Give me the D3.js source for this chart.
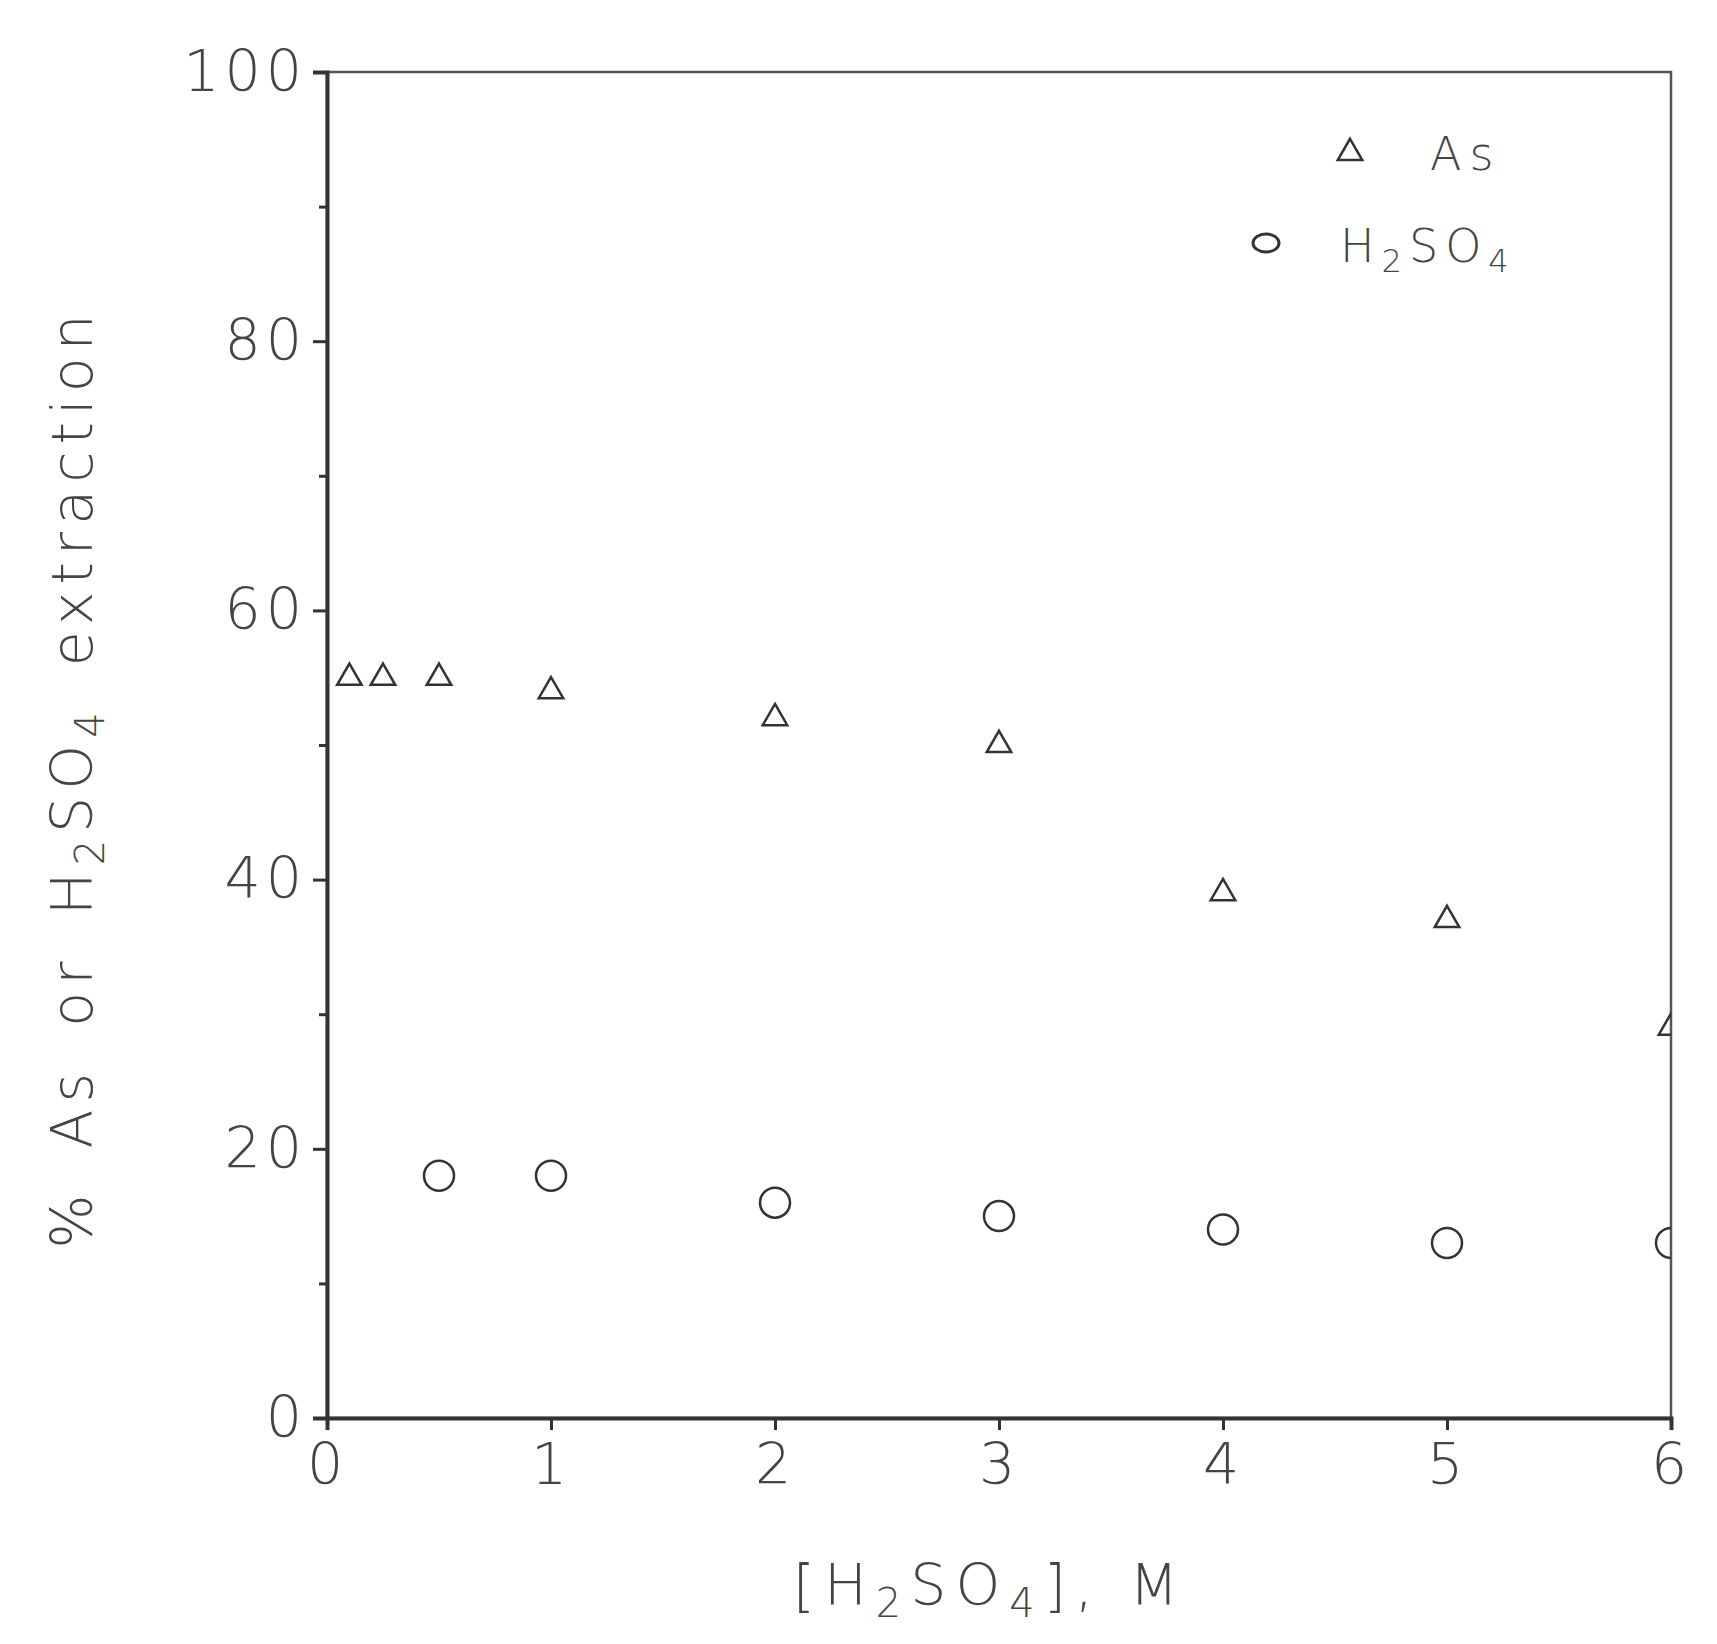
<!DOCTYPE html>
<html lang="en">
  <head>
    <meta charset="UTF-8" />
    <title>As extraction</title>
    <script src="https://d3js.org/d3.v7.min.js"></script>
    <style>
      body { margin: 0; background: white; }
      text { font-family: "DejaVu Sans", sans-serif; fill: #444; font-weight: 300; }
    </style>
  </head>
  <body>
    <script>
      // data
      const asX = [0.1, 0.25, 0.5, 1, 2, 3, 4, 5, 6];
      const asY = [55, 55, 55, 54, 52, 50, 39, 37, 29];
      const acidX = [0.5, 1, 2, 3, 4, 5, 6];
      const acidY = [18, 18, 16, 15, 14, 13, 13];
      const xTicks = [0, 1, 2, 3, 4, 5, 6];
      const yTicks = [0, 20, 40, 60, 80, 100];

      const W = 1717, H = 1644;
      const m = { left: 327, right: W - 1671, top: 72, bottom: H - 1418 };
      const svg = d3.select("body").append("svg").attr("width", W).attr("height", H);

      const x = d3.scaleLinear().domain([0, 6]).range([m.left, W - m.right]);
      const y = d3.scaleLinear().domain([0, 100]).range([H - m.bottom, m.top]);

      svg.append("clipPath").attr("id", "clip").append("rect")
        .attr("x", m.left).attr("y", m.top)
        .attr("width", x(6) - m.left).attr("height", y(0) - m.top);

      // frame
      svg.append("rect").attr("x", m.left).attr("y", m.top)
        .attr("width", x(6) - m.left).attr("height", y(0) - m.top)
        .attr("fill", "none").attr("stroke", "#555").attr("stroke-width", 2.5);

      svg.append("g").attr("transform", `translate(0,${y(0)})`)
        .call(d3.axisBottom(x).tickValues(xTicks).tickSize(12).tickPadding(14).tickFormat(d3.format("d")));
      svg.append("g").attr("transform", `translate(${m.left},0)`)
        .call(d3.axisLeft(y).tickValues(yTicks).tickSize(14).tickPadding(6));
      // minor y ticks
      svg.append("g").attr("transform", `translate(${m.left},0)`)
        .call(d3.axisLeft(y).tickValues([10, 30, 50, 70, 90]).tickSize(8).tickFormat(""))
        .select(".domain").remove();
      svg.selectAll(".tick line").attr("stroke", "#333").attr("stroke-width", 3);
      svg.selectAll(".domain").attr("stroke", "#333").attr("stroke-width", 4);
      svg.selectAll(".tick text").attr("font-size", 57).attr("fill", "#555")
        .attr("letter-spacing", 5);

      const plot = svg.append("g").attr("clip-path", "url(#clip)");
      const tri = d3.symbol().type(d3.symbolTriangle).size(260);

      plot.selectAll(".as").data(asX).join("path")
        .attr("d", tri)
        .attr("transform", (d, i) => `translate(${x(d)},${y(asY[i])})`)
        .attr("fill", "none").attr("stroke", "#333").attr("stroke-width", 2.5);
      plot.selectAll(".acid").data(acidX).join("circle")
        .attr("cx", d => x(d)).attr("cy", (d, i) => y(acidY[i])).attr("r", 15)
        .attr("fill", "none").attr("stroke", "#333").attr("stroke-width", 2.5);

      // legend
      svg.append("path").attr("d", tri).attr("transform", "translate(1350,153)")
        .attr("fill", "none").attr("stroke", "#333").attr("stroke-width", 2.5);
      svg.append("text").attr("x", 1430).attr("y", 170).attr("font-size", 46)
        .attr("letter-spacing", 8).text("As");
      svg.append("ellipse").attr("cx", 1266).attr("cy", 243).attr("rx", 13).attr("ry", 9)
        .attr("fill", "none").attr("stroke", "#333").attr("stroke-width", 3);
      const lg = svg.append("text").attr("x", 1340).attr("y", 262).attr("font-size", 46)
        .attr("letter-spacing", 7);
      lg.append("tspan").text("H");
      lg.append("tspan").attr("font-size", 32).attr("dy", 10).text("2");
      lg.append("tspan").attr("dy", -10).text("SO");
      lg.append("tspan").attr("font-size", 32).attr("dy", 10).text("4");

      // axis titles
      const xt = svg.append("text").attr("x", 990).attr("y", 1605)
        .attr("text-anchor", "middle").attr("font-size", 57).attr("letter-spacing", 9);
      xt.append("tspan").text("[H");
      xt.append("tspan").attr("font-size", 40).attr("dy", 12).text("2");
      xt.append("tspan").attr("dy", -12).text("SO");
      xt.append("tspan").attr("font-size", 40).attr("dy", 12).text("4");
      xt.append("tspan").attr("dy", -12).text("], M");

      const yt = svg.append("text").attr("transform", "translate(92,778) rotate(-90)")
        .attr("text-anchor", "middle").attr("font-size", 57).attr("letter-spacing", 7)
        .attr("word-spacing", 14);
      yt.append("tspan").text("% As or H");
      yt.append("tspan").attr("font-size", 40).attr("dy", 12).text("2");
      yt.append("tspan").attr("dy", -12).text("SO");
      yt.append("tspan").attr("font-size", 40).attr("dy", 12).text("4");
      yt.append("tspan").attr("dy", -12).text(" extraction");
    </script>
  </body>
</html>
